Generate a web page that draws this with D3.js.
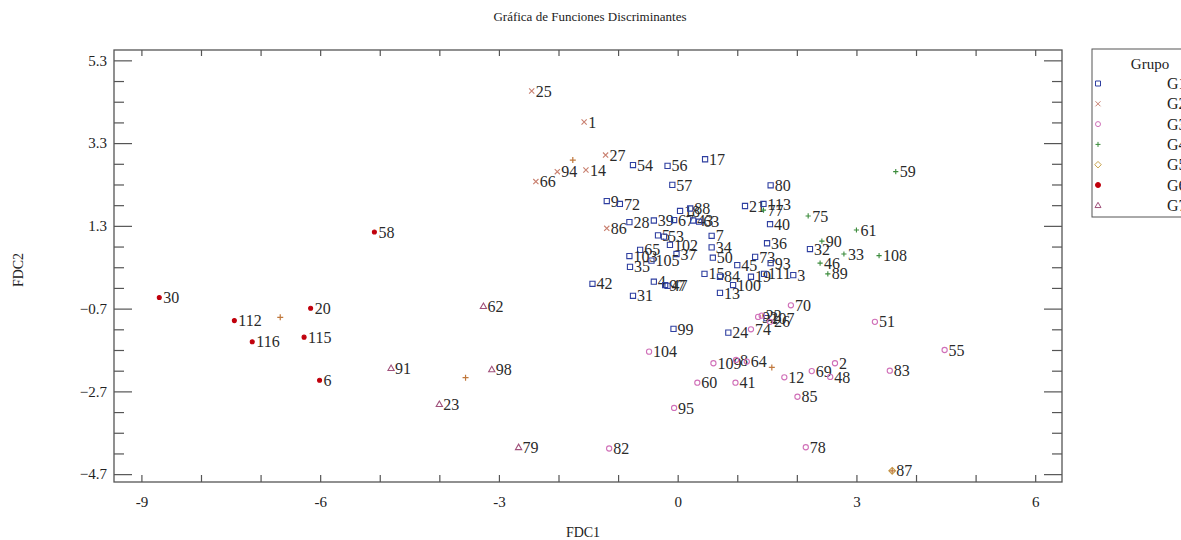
<!DOCTYPE html>
<html>
<head>
<meta charset="utf-8">
<script src="https://cdn.jsdelivr.net/npm/d3@7"></script>
<style>
  body { margin: 0; background: #fff; }
  text { font-family: "Liberation Serif", "Times New Roman", serif; }
</style>
</head>
<body>
<div class="canvas"></div>
<script>
// Points per group: [label, FDC1, FDC2]
const g1Points = [
  ['54', -0.75, 2.77], ['56', -0.17, 2.75], ['57', -0.09, 2.29], ['17', 0.46, 2.91],
  ['9', -1.19, 1.90], ['72', -0.97, 1.83], ['28', -0.81, 1.39], ['39', -0.40, 1.43],
  ['67', -0.06, 1.44], ['18', 0.04, 1.66], ['88', 0.21, 1.72], ['43', 0.26, 1.43],
  ['63', 0.36, 1.40], ['5', -0.33, 1.07], ['53', -0.23, 1.04], ['102', -0.13, 0.84],
  ['37', -0.02, 0.62], ['7', 0.57, 1.06], ['34', 0.57, 0.78], ['50', 0.59, 0.53],
  ['65', -0.63, 0.72], ['103', -0.81, 0.57], ['35', -0.80, 0.31], ['105', -0.44, 0.46],
  ['42', -1.43, -0.10], ['31', -0.75, -0.39], ['4', -0.40, -0.05], ['97', -0.21, -0.13],
  ['47', -0.17, -0.15], ['15', 0.45, 0.14], ['84', 0.71, 0.07], ['13', 0.71, -0.32],
  ['100', 0.93, -0.13], ['80', 1.56, 2.28], ['21', 1.13, 1.78], ['113', 1.44, 1.83],
  ['40', 1.55, 1.34], ['36', 1.50, 0.88], ['73', 1.30, 0.55], ['45', 1.00, 0.35],
  ['93', 1.56, 0.40], ['19', 1.23, 0.07], ['111', 1.45, 0.14], ['3', 1.94, 0.11],
  ['32', 2.22, 0.74], ['99', -0.07, -1.19], ['24', 0.85, -1.28], ['107', 1.49, -0.93]
]
const g2Points = [
  ['25', -2.45, 4.56], ['1', -1.57, 3.81], ['27', -1.21, 3.01], ['94', -2.02, 2.61],
  ['14', -1.54, 2.65], ['66', -2.38, 2.37], ['86', -1.19, 1.24]
]
const g3Points = [
  ['70', 1.90, -0.62], ['92', 1.35, -0.90], ['22', 1.41, -0.87], ['26', 1.55, -1.02],
  ['74', 1.23, -1.20], ['51', 3.31, -1.02], ['55', 4.48, -1.70], ['83', 3.56, -2.20],
  ['104', -0.48, -1.74], ['109', 0.60, -2.02], ['8', 0.98, -1.94], ['64', 1.16, -1.98],
  ['12', 1.79, -2.36], ['69', 2.25, -2.21], ['2', 2.64, -2.02], ['48', 2.56, -2.35],
  ['60', 0.33, -2.49], ['41', 0.97, -2.49], ['85', 2.01, -2.83], ['95', -0.06, -3.10],
  ['82', -1.15, -4.08], ['78', 2.15, -4.05]
]
const g4Points = [
  ['77', 1.44, 1.68], ['75', 2.19, 1.54], ['90', 2.42, 0.93], ['33', 2.79, 0.62],
  ['46', 2.39, 0.40], ['89', 2.52, 0.14], ['61', 3.00, 1.20], ['108', 3.38, 0.58],
  ['59', 3.66, 2.61]
]
const g5Points = [['87', 3.60, -4.62]]
const g6Points = [
  ['30', -8.70, -0.43], ['112', -7.44, -0.99], ['20', -6.16, -0.69], ['116', -7.14, -1.50],
  ['115', -6.27, -1.39], ['6', -6.01, -2.43], ['58', -5.09, 1.15]
]
const g7Points = [
  ['62', -3.26, -0.64], ['91', -4.81, -2.14], ['98', -3.12, -2.17], ['23', -4.00, -3.01],
  ['79', -2.67, -4.05]
]
// group centroids (unlabelled plus signs)
const centroids = [[-1.76, 2.89], [1.58, -2.12], [3.60, -4.62], [-6.67, -0.91], [-3.56, -2.37]]

const groupNames = ['G1', 'G2', 'G3', 'G4', 'G5', 'G6', 'G7']
const groupColors = ['#2f3fa0', '#c98070', '#d070b8', '#3c8c3c', '#c8a24a', '#c0000c', '#a0507a']
const groupShapes = ['square', 'times', 'circle', 'plus', 'diamond', 'dot', 'triangle']
const groups = [g1Points, g2Points, g3Points, g4Points, g5Points, g6Points, g7Points]

const xTicks = d3.range(-9, 7)
const yMajor = [5.3, 3.3, 1.3, -0.7, -2.7, -4.7]
const yMinor = d3.range(0, 21).map(i => -4.7 + i * 0.5).filter(v => !yMajor.some(m => Math.abs(m - v) < 1e-6))

const width = 1181
const height = 540
const margin = {top: 50, right: 119, bottom: 58, left: 114}

const svg = d3.select('.canvas')
  .append('svg')
    .attr('width', width)
    .attr('height', height)

const x = d3.scaleLinear().domain([-9.46, 6.45]).range([margin.left, width - margin.right])
const y = d3.scaleLinear().domain([-4.89, 5.55]).range([height - margin.bottom, margin.top])

// symbol path builder
const shapePath = (shape, s) => {
  if (shape === 'square') return `M${-s},${-s}h${2 * s}v${2 * s}h${-2 * s}Z`
  if (shape === 'times') return `M${-s},${-s}L${s},${s}M${-s},${s}L${s},${-s}`
  if (shape === 'plus') return `M${-s},0H${s}M0,${-s}V${s}`
  if (shape === 'circle' || shape === 'dot') return `M${s},0A${s},${s} 0 1,1 ${-s},0A${s},${s} 0 1,1 ${s},0`
  if (shape === 'diamond') return `M0,${-s * 1.3}L${s * 1.3},0L0,${s * 1.3}L${-s * 1.3},0Z`
  if (shape === 'triangle') return `M0,${-s * 1.2}L${s * 1.2},${s * 0.9}L${-s * 1.2},${s * 0.9}Z`
}

// frame
svg.append('rect')
  .attr('x', margin.left).attr('y', margin.top)
  .attr('width', x.range()[1] - margin.left)
  .attr('height', y.range()[0] - margin.top)
  .attr('fill', 'none').attr('stroke', '#555').attr('stroke-width', 1.3)

const styleAxis = g => {
  g.select('.domain').remove()
  g.selectAll('line').attr('stroke', '#555').attr('stroke-width', 1.2)
  g.selectAll('text').attr('fill', '#222').style('font-size', '15px')
    .style('font-family', '"Liberation Serif", serif')
}

// x axes
svg.append('g')
  .attr('transform', `translate(0,${y.range()[0]})`)
  .call(d3.axisBottom(x).tickValues(xTicks).tickSize(-7).tickPadding(14)
    .tickFormat(d => d % 3 === 0 ? d : ''))
  .call(styleAxis)
svg.append('g')
  .attr('transform', `translate(0,${margin.top})`)
  .call(d3.axisTop(x).tickValues(xTicks).tickSize(-6).tickFormat(''))
  .call(styleAxis)

// y axes
svg.append('g')
  .attr('transform', `translate(${margin.left},0)`)
  .call(d3.axisLeft(y).tickValues(yMajor).tickSize(-18).tickPadding(7).tickFormat(d3.format('.1f')))
  .call(styleAxis)
svg.append('g')
  .attr('transform', `translate(${margin.left},0)`)
  .call(d3.axisLeft(y).tickValues(yMinor).tickSize(-10).tickFormat(''))
  .call(styleAxis)
svg.append('g')
  .attr('transform', `translate(${x.range()[1]},0)`)
  .call(d3.axisRight(y).tickValues(yMajor).tickSize(-18).tickFormat(''))
  .call(styleAxis)
svg.append('g')
  .attr('transform', `translate(${x.range()[1]},0)`)
  .call(d3.axisRight(y).tickValues(yMinor).tickSize(-10).tickFormat(''))
  .call(styleAxis)

// points
groups.forEach((pts, gi) => {
  const shape = groupShapes[gi]
  const color = groupColors[gi]
  const g = svg.append('g')
  const node = g.selectAll('g').data(pts).enter().append('g')
    .attr('transform', d => `translate(${x(d[1])},${y(d[2])})`)
  node.append('path')
    .attr('d', shapePath(shape, shape === 'dot' ? 2 : 2.6))
    .attr('fill', shape === 'dot' ? color : 'none')
    .attr('stroke', color)
    .attr('stroke-width', 1.1)
  node.append('text')
    .attr('x', 4)
    .attr('dy', '0.35em')
    .attr('fill', '#2a2a2a')
    .style('font-size', '16px')
    .text(d => d[0])
})

svg.append('g').selectAll('path').data(centroids).enter().append('path')
  .attr('transform', d => `translate(${x(d[0])},${y(d[1])})`)
  .attr('d', shapePath('plus', 3))
  .attr('stroke', '#c0783c').attr('stroke-width', 1.2)

// titles
svg.append('text')
  .attr('x', 590).attr('y', 21)
  .attr('text-anchor', 'middle').attr('fill', '#222')
  .style('font-size', '13px')
  .text('Gráfica de Funciones Discriminantes')
svg.append('text')
  .attr('x', 583).attr('y', 537)
  .attr('text-anchor', 'middle').attr('fill', '#222')
  .style('font-size', '14px')
  .text('FDC1')
svg.append('text')
  .attr('transform', 'translate(23,270) rotate(-90)')
  .attr('text-anchor', 'middle').attr('fill', '#222')
  .style('font-size', '14px')
  .text('FDC2')

// legend
const legend = svg.append('g')
legend.append('rect')
  .attr('x', 1092).attr('y', 49).attr('width', 120).attr('height', 168)
  .attr('fill', 'none').attr('stroke', '#555').attr('stroke-width', 1)
legend.append('text')
  .attr('x', 1150).attr('y', 69).attr('text-anchor', 'middle').attr('fill', '#222')
  .style('font-size', '15px').text('Grupo')
const item = legend.selectAll('.item').data(groupNames).enter().append('g')
  .attr('transform', (d, i) => `translate(0,${83.5 + i * 20.3})`)
item.append('path')
  .attr('transform', 'translate(1098,0)')
  .attr('d', (d, i) => shapePath(groupShapes[i], 2.5))
  .attr('fill', (d, i) => groupShapes[i] === 'dot' ? groupColors[i] : 'none')
  .attr('stroke', (d, i) => groupColors[i])
item.append('text')
  .attr('x', 1167).attr('dy', '0.35em').attr('fill', '#222')
  .style('font-size', '16px')
  .text(d => d)
</script>
</body>
</html>
